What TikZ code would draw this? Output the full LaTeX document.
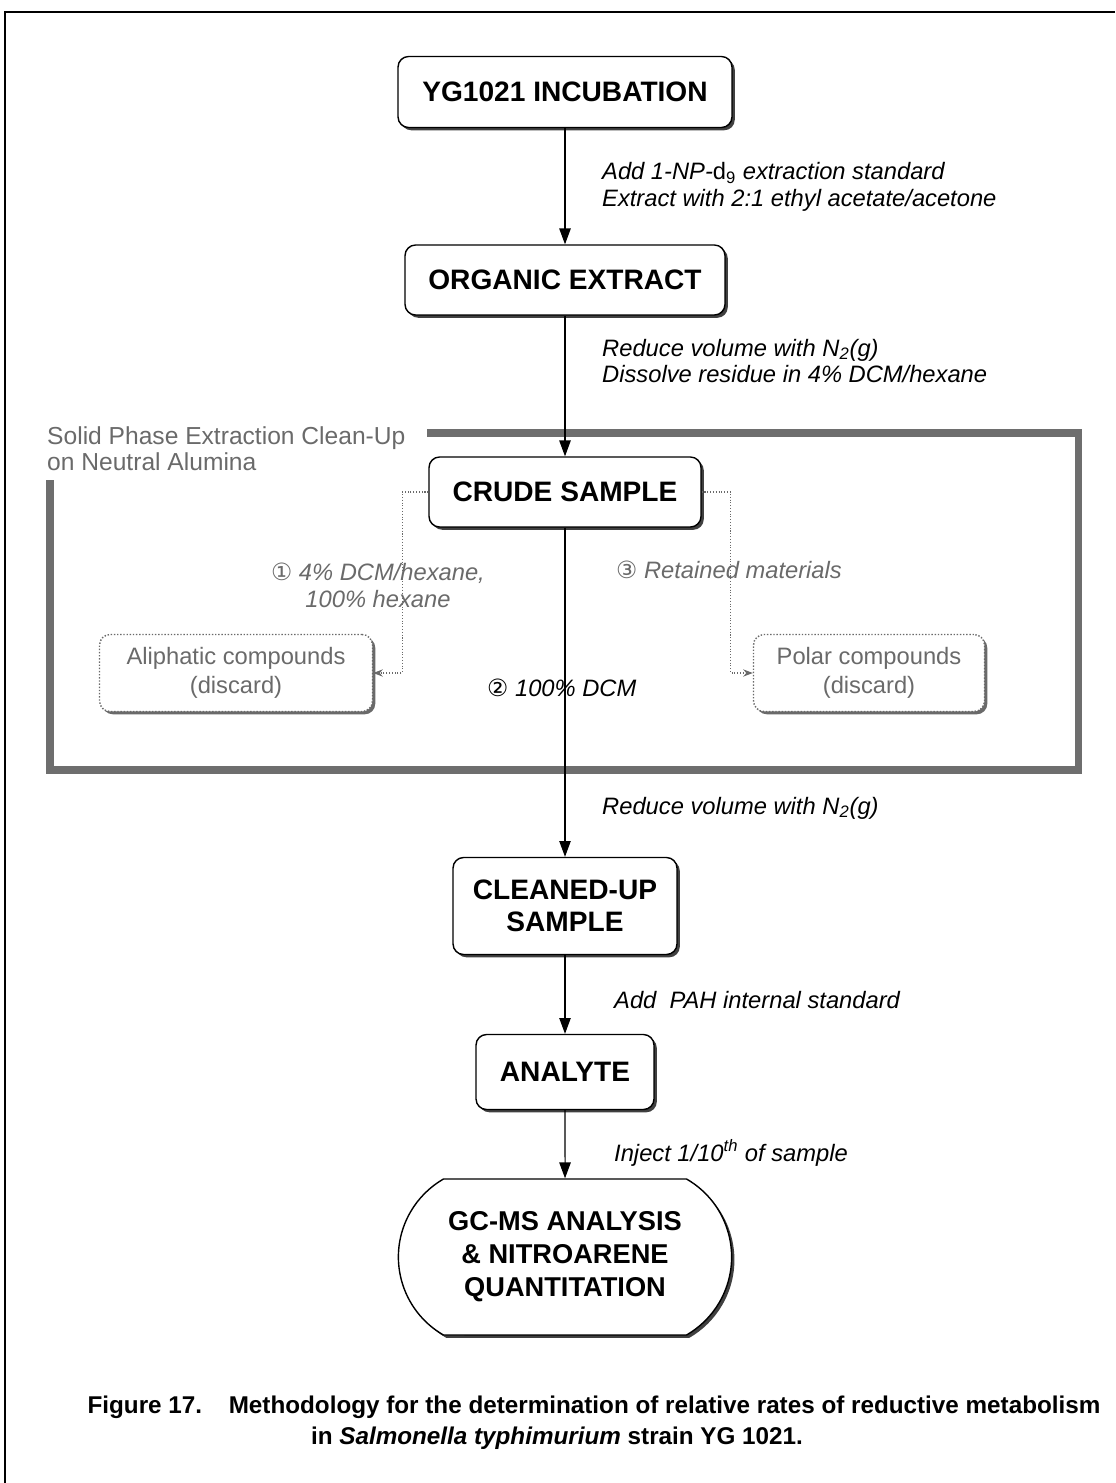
\documentclass[tikz,border=0pt]{standalone}
\usepackage{fontspec}
\setmainfont{Liberation Sans}
\newfontfamily\circfont{DejaVu Sans}
\usetikzlibrary{arrows.meta,positioning,shapes.misc,shadows}
\definecolor{Shade}{HTML}{6A6A6A}
\definecolor{Frame}{HTML}{6E6E6E}

\begin{document}
\begin{tikzpicture}[x=0.02cm,y=-0.02cm,
    stepbox/.style={draw,thick,rounded corners=6pt,fill=white,align=center,
      font=\fontsize{16}{18.5}\selectfont\bfseries,
      drop shadow={shadow xshift=1.6pt,shadow yshift=-1.6pt,fill=black!75,opacity=1}},
    sidebox/.style={draw=Shade,densely dotted,thick,rounded corners=6pt,fill=white,
      align=center,text=Shade,font=\fontsize{13.5}{16.4}\selectfont,
      drop shadow={shadow xshift=1.6pt,shadow yshift=-1.6pt,fill=Shade,opacity=1}},
    lbl/.style={anchor=west,align=left,font=\fontsize{13.5}{15.3}\selectfont\itshape},
    caption/.style={font=\fontsize{13.8}{16}\selectfont\bfseries},
    arr/.style={-{Triangle[length=9pt,width=6.5pt]},semithick},
    sidearr/.style={-{Stealth[length=5.5pt]},densely dotted,semithick,Shade}
  ]
    \useasboundingbox (0,0) rectangle (1115,1483);
    \draw[line width=1pt] (1115,12) -- (5,12) -- (5,1483);
    \draw[line width=4pt,Frame] (427,433) -| (1078,770) -| (50,480);
    \node[anchor=west,align=left,text=Shade,font=\fontsize{14}{14.8}\selectfont] (spe)
      at (41,449) {Solid Phase Extraction Clean-Up\\on Neutral Alumina};

    \node[stepbox,minimum width=6.68cm,minimum height=1.42cm] (yg) at (565,92) {YG1021 INCUBATION};
    \node[stepbox,minimum width=6.4cm,minimum height=1.4cm] (org) at (565,280) {ORGANIC EXTRACT};
    \node[stepbox,minimum width=5.44cm,minimum height=1.4cm] (crude) at (565,492) {CRUDE SAMPLE};
    \node[sidebox,minimum width=5.46cm,minimum height=1.54cm] (aliph) at (236,673) {Aliphatic compounds\\(discard)};
    \node[sidebox,minimum width=4.62cm,minimum height=1.54cm] (polar) at (869,673) {Polar compounds\\(discard)};
    \node[stepbox,minimum width=4.48cm,minimum height=1.94cm] (clean) at (565,906) {CLEANED-UP\\SAMPLE};
    \node[stepbox,minimum width=3.56cm,minimum height=1.5cm] (analyte) at (565,1072) {ANALYTE};
    \node[stepbox,rounded rectangle,rounded rectangle arc length=120,rounded corners=0pt,
      minimum width=6.9cm,minimum height=3.12cm,font=\fontsize{15.5}{18.7}\selectfont\bfseries] (gcms)
      at (565,1257) {GC-MS ANALYSIS\\\& NITROARENE\\QUANTITATION};

    \node[lbl] (l1) at (596,187) {Add 1-\textit{NP}-{\upshape d\textsubscript{9}} extraction standard\\Extract with 2:1 ethyl acetate/acetone};
    \node[lbl] (l2) at (596,361) {Reduce volume with N\textsubscript{2}(g)\\Dissolve residue in 4\% DCM/hexane};
    \node[lbl,anchor=center,align=center,text=Shade] (l3) at (378,585) {{\circfont ①} 4\% DCM/hexane,\\100\% hexane};
    \node[lbl,text=Shade] (l4) at (610,570) {{\circfont ③} Retained materials};
    \node[lbl] (l5) at (481,688) {{\circfont ②} 100\% DCM};
    \node[lbl] (l6) at (596,808) {Reduce volume with N\textsubscript{2}(g)};
    \node[lbl] (l7) at (608,1000) {Add\ \ PAH internal standard};
    \node[lbl] (l8) at (608,1153) {Inject 1/10\textsuperscript{th} of sample};

    \draw[arr] (yg) -- (org);
    \draw[arr] (org) -- (crude);
    \draw[arr] (crude) -- (clean);
    \draw[arr] (clean) -- (analyte);
    \draw[arr] (analyte) -- (gcms);
    \draw[sidearr] (crude.west) -- ++(-26,0) |- (aliph.east);
    \draw[sidearr] (crude.east) -- ++(29,0) |- (polar.west);

    \node[caption] (cap1) at (594,1407)
      {Figure 17.\hspace{1.1em}Methodology for the determination of relative rates of reductive metabolism};
    \node[caption] (cap2) at (557,1438)
      {in \textit{Salmonella typhimurium} strain YG 1021.};
\end{tikzpicture}
\end{document}
